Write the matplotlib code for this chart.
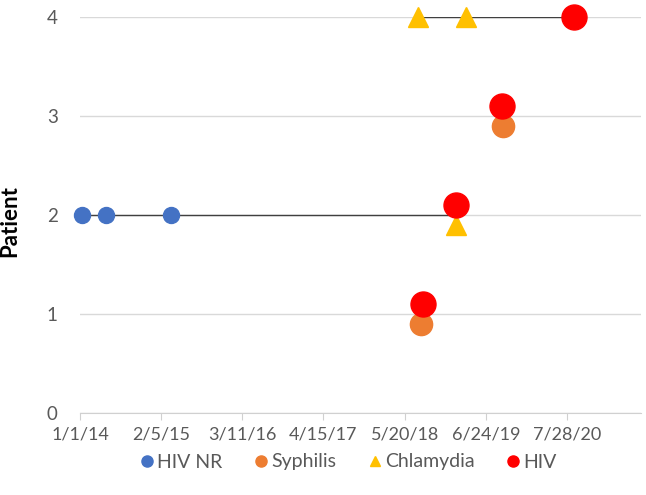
import datetime as dt
import matplotlib.pyplot as plt
import matplotlib.dates as mdates
from matplotlib.lines import Line2D

plt.rcParams['font.family'] = ['Lato', 'DejaVu Sans']

# event data (date, patient row)
hivnr_dates = ["2014-01-11", "2014-05-09", "2015-03-25"]
hivnr_y = [2, 2, 2]
syph_dates = ["2018-08-08", "2019-09-16"]
syph_y = [0.9, 2.9]
chlam_dates = ["2019-01-27", "2018-07-24", "2019-03-17"]
chlam_y = [1.9, 4, 4]
hiv_dates = ["2018-08-18", "2019-01-27", "2019-09-11", "2020-08-30"]
hiv_y = [1.1, 2.1, 3.1, 4]

# patient timelines
tl_patient = [2, 4]
tl_start = ["2014-01-11", "2018-07-24"]
tl_end = ["2019-01-27", "2020-08-30"]

def d(s):
    return dt.datetime.strptime(s, "%Y-%m-%d")

fig = plt.figure(figsize=(6.46, 4.95), dpi=100)
ax = fig.add_axes([80/646, 82/495, 561/646, 396/495])

for p, s, e in zip(tl_patient, tl_start, tl_end):
    ax.plot([d(s), d(e)], [p, p], color='#404040', lw=1, zorder=2)

ax.plot([d(x) for x in hivnr_dates], hivnr_y, 'o', color='#4472C4', ms=11.5, mec='#4472C4', zorder=3, clip_on=False)
ax.plot([d(x) for x in syph_dates], syph_y, 'o', color='#ED7D31', ms=16, mec='#ED7D31', zorder=3, clip_on=False)
ax.plot([d(x) for x in chlam_dates], chlam_y, '^', color='#FFC000', ms=15, mec='#FFC000', zorder=4, clip_on=False)
ax.plot([d(x) for x in hiv_dates], hiv_y, 'o', color='#FF0000', ms=18, mec='#FF0000', zorder=5, clip_on=False)

start = dt.datetime(2014, 1, 1)
ax.set_xlim(start, start + dt.timedelta(days=2765))
ax.set_ylim(0, 4)
ticks = [start + dt.timedelta(days=400 * i) for i in range(7)]
ax.set_xticks(ticks)
ax.xaxis.set_major_formatter(plt.FuncFormatter(
    lambda v, pos: f"{mdates.num2date(v).month}/{mdates.num2date(v).day}/{mdates.num2date(v).strftime('%y')}"))
ax.set_yticks([0, 1, 2, 3, 4])

ax.grid(axis='y', color='#d9d9d9', lw=1)
ax.set_axisbelow(True)
for side in ['top', 'right', 'left']:
    ax.spines[side].set_visible(False)
ax.spines['bottom'].set_color('#d0d0d0')
ax.tick_params(axis='x', colors='#d0d0d0', length=5, labelcolor='#595959', labelsize=13, pad=5)
ax.tick_params(axis='y', length=0, labelcolor='#595959', labelsize=13.5, pad=16)

fig.text(10/646, 1 - 221/495, "Patient", rotation=90, fontsize=16, fontweight='bold',
         ha='center', va='center')

handles = [
    Line2D([], [], marker='o', ls='', color='#4472C4', ms=8, label='HIV NR'),
    Line2D([], [], marker='o', ls='', color='#ED7D31', ms=8, label='Syphilis'),
    Line2D([], [], marker='^', ls='', color='#FFC000', ms=7.5, label='Chlamydia'),
    Line2D([], [], marker='o', ls='', color='#FF0000', ms=8, label='HIV'),
]
leg = fig.legend(handles=handles, loc='center', bbox_to_anchor=(347/646, 1 - 462/495), ncol=4,
                 frameon=False, fontsize=14, handletextpad=0.0, columnspacing=1.5, handlelength=1.0)
for t in leg.get_texts():
    t.set_color('#595959')

fig.savefig("out.png", dpi=100)
